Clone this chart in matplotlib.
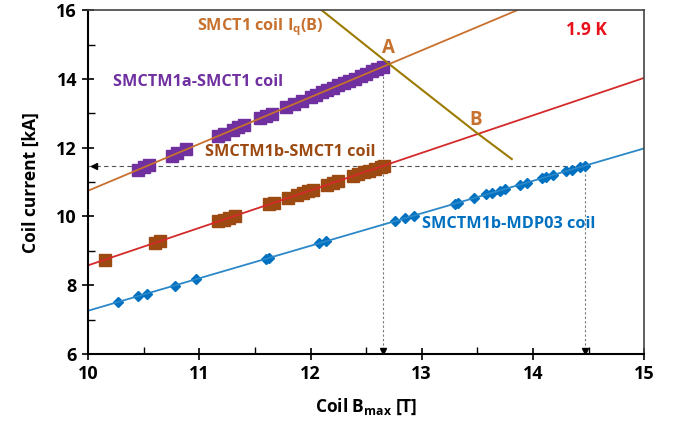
import numpy as np
import matplotlib
matplotlib.use("Agg")
import matplotlib.pyplot as plt

plt.rcParams["font.family"] = ["Open Sans", "DejaVu Sans"]
plt.rcParams["font.weight"] = "bold"
plt.rcParams["mathtext.fontset"] = "custom"
plt.rcParams["mathtext.bf"] = "Open Sans:bold"
plt.rcParams["mathtext.rm"] = "Open Sans:bold"

## Donnees
# SMCTM1a-SMCT1 coil (carres violets)
b_1a = [10.45, 10.50, 10.55, 10.75, 10.80, 10.88, 11.17, 11.22, 11.30, 11.35, 11.40,
        11.55, 11.60, 11.65, 11.78, 11.85, 11.92, 12.00, 12.05, 12.10, 12.15, 12.20,
        12.25, 12.30, 12.35, 12.40, 12.45, 12.50, 12.55, 12.60, 12.65]
i_1a = [11.36, 11.43, 11.50, 11.77, 11.84, 11.95, 12.34, 12.41, 12.52, 12.59, 12.65,
        12.86, 12.93, 12.99, 13.17, 13.27, 13.36, 13.47, 13.54, 13.61, 13.67, 13.74,
        13.81, 13.88, 13.95, 14.01, 14.08, 14.15, 14.22, 14.29, 14.35]

# SMCTM1b-SMCT1 coil (carres marron)
b_1b = [10.15, 10.60, 10.65, 11.17, 11.22, 11.27, 11.32, 11.63, 11.67, 11.80, 11.88,
        11.93, 11.98, 12.02, 12.15, 12.20, 12.25, 12.38, 12.43, 12.48, 12.53, 12.58,
        12.63, 12.66]
i_1b = [8.74, 9.23, 9.29, 9.86, 9.91, 9.96, 10.02, 10.36, 10.40, 10.54, 10.63,
        10.68, 10.74, 10.78, 10.92, 10.98, 11.03, 11.17, 11.23, 11.28, 11.33, 11.39,
        11.45, 11.48]

# SMCTM1b-MDP03 coil (losanges bleus)
b_mdp = [10.27, 10.45, 10.53, 10.78, 10.97, 11.60, 11.63, 12.08, 12.14, 12.76, 12.85,
         12.93, 13.30, 13.33, 13.47, 13.58, 13.63, 13.70, 13.75, 13.88, 13.95, 14.08,
         14.12, 14.18, 14.30, 14.35, 14.42, 14.47]
i_mdp = [7.51, 7.68, 7.76, 7.98, 8.17, 8.77, 8.80, 9.22, 9.28, 9.86, 9.95,
         10.02, 10.37, 10.40, 10.53, 10.64, 10.68, 10.75, 10.80, 10.92, 10.98, 11.11,
         11.15, 11.20, 11.31, 11.36, 11.43, 11.48]

# droites de charge
load_1a_b = [10.0, 13.86]
load_1a_i = [10.75, 16.0]
load_1b_b = [10.0, 15.0]
load_1b_i = [8.58, 14.03]
load_mdp_b = [10.0, 15.0]
load_mdp_i = [7.26, 11.98]

# courbe Iq(B) du SMCT1
iq_b = [12.10, 12.72, 13.50, 13.81]
iq_i = [16.00, 14.40, 12.42, 11.67]

# points A et B
A = (12.65, 14.35)
B = (14.47, 11.48)

c_orange = "#C8702E"
c_violet = "#7030A0"
c_marron = "#9C4A12"
c_rouge = "#D42A2A"
c_bleu = "#0070C0"
c_bleu_l = "#2A88C8"
c_olive = "#9C7A00"

fig, ax = plt.subplots(figsize=(6.78, 4.23), dpi=100)
fig.subplots_adjust(left=0.13, right=0.95, top=0.976, bottom=0.163)

# lignes pointillees
ax.plot([10.0, B[0]], [B[1], B[1]], ls="--", lw=0.8, color="#555555", dashes=(4, 3))
ax.plot([10.05], [B[1]], marker="<", ms=4, color="black")
ax.plot([A[0], A[0]], [6.0, A[1]], ls="--", lw=0.8, color="#777777", dashes=(2, 2))
ax.plot([A[0]], [6.08], marker="v", ms=4, color="black")
ax.plot([B[0], B[0]], [6.0, B[1]], ls="--", lw=0.8, color="#777777", dashes=(2, 2))
ax.plot([B[0]], [6.08], marker="v", ms=4, color="black")

# mesures
ax.plot(b_1a, i_1a, ls="none", marker="s", ms=8.5, color=c_violet)
ax.plot(b_1b, i_1b, ls="none", marker="s", ms=8.5, color=c_marron)
ax.plot(b_mdp, i_mdp, ls="none", marker="D", ms=5.5, color=c_bleu)

# droites
ax.plot(load_1a_b, load_1a_i, color=c_orange, lw=1.3)
ax.plot(load_1b_b, load_1b_i, color=c_rouge, lw=1.3)
ax.plot(load_mdp_b, load_mdp_i, color=c_bleu_l, lw=1.3)
ax.plot(iq_b, iq_i, color=c_olive, lw=1.5)

# textes
ax.text(10.98, 15.5, r"SMCT1 coil I$_\mathbf{q}$(B)", color=c_orange, fontsize=11.7,
        fontweight="bold", va="center")
ax.text(12.64, 14.9, "A", color=c_orange, fontsize=13.5, fontweight="bold", va="center")
ax.text(13.43, 12.8, "B", color=c_orange, fontsize=13.5, fontweight="bold", va="center")
ax.text(14.3, 15.42, "1.9 K", color="#E8101A", fontsize=12.5, fontweight="bold", va="center")
ax.text(10.22, 13.9, "SMCTM1a-SMCT1 coil", color=c_violet, fontsize=11.7,
        fontweight="bold", va="center")
ax.text(11.05, 11.87, "SMCTM1b-SMCT1 coil", color=c_marron, fontsize=11.7,
        fontweight="bold", va="center")
ax.text(13.0, 9.78, "SMCTM1b-MDP03 coil", color=c_bleu, fontsize=11.7,
        fontweight="bold", va="center")

ax.set_xlim(10, 15)
ax.set_ylim(6, 16)
ax.set_xticks([10, 11, 12, 13, 14, 15])
ax.set_xticks(np.arange(10.5, 15, 1.0), minor=True)
ax.set_yticks([6, 8, 10, 12, 14, 16])
ax.set_yticks([7, 9, 11, 13, 15], minor=True)
ax.tick_params(which="major", direction="inout", length=9, width=1.2, labelsize=13)
ax.tick_params(which="minor", direction="in", length=5, width=1.0)
for lab in ax.get_xticklabels() + ax.get_yticklabels():
    lab.set_fontweight("bold")
for s in ["left", "bottom"]:
    ax.spines[s].set_linewidth(1.5)
for s in ["top", "right"]:
    ax.spines[s].set_linewidth(1.2)
    ax.spines[s].set_color("#444444")

ax.set_xlabel(r"Coil B$_\mathbf{max}$ [T]", fontsize=12.5, fontweight="bold", labelpad=10)
ax.set_ylabel("Coil current [kA]", fontsize=12.5, fontweight="bold", labelpad=12)

plt.savefig("out.png", dpi=100)
